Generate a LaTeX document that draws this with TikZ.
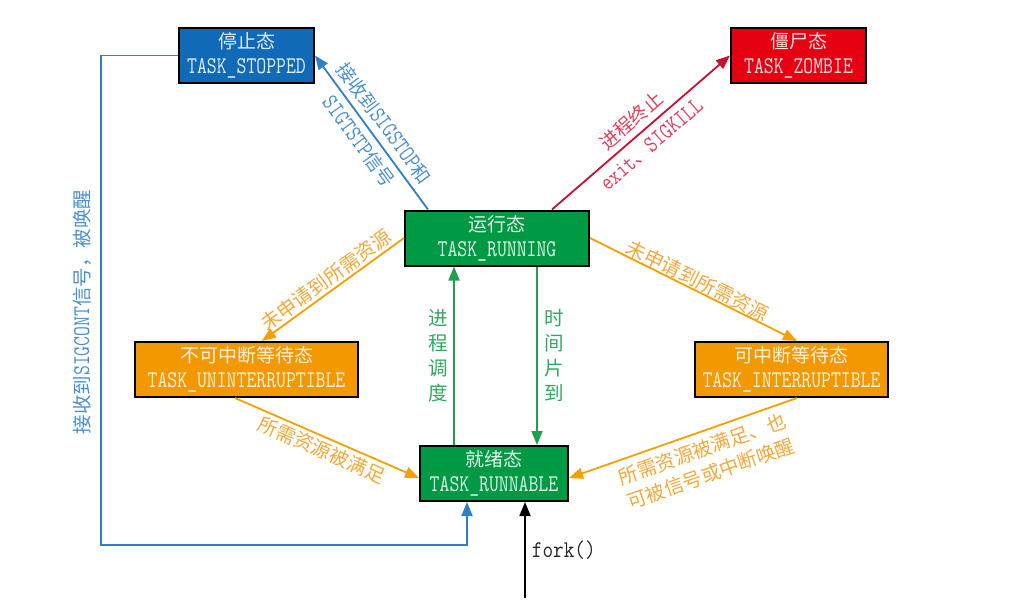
\documentclass[tikz,border=0pt]{standalone}
\usepackage{fontspec}
\usepackage{graphicx}
\usetikzlibrary{arrows.meta}
\newfontfamily\cjk{Noto Sans CJK SC}
% half-width Latin text: condensed Latin Modern Mono
\newcommand\halfw[2][0.8]{\scalebox{#1}[1]{\fontsize{24}{24}\selectfont\ttfamily #2}}

\definecolor{boxblue}{HTML}{116AB8}
\definecolor{boxred}{HTML}{E50012}
\definecolor{boxgreen}{HTML}{009A44}
\definecolor{boxorange}{HTML}{F39800}
\definecolor{lineblue}{HTML}{2F7FC8}
\definecolor{linered}{HTML}{C8102E}
\definecolor{linegreen}{HTML}{1FA050}
\definecolor{lineorange}{HTML}{F5A000}
\definecolor{lblblue}{HTML}{4A90D0}
\definecolor{lblred}{HTML}{E0405A}
\definecolor{lblgreen}{HTML}{30A860}
\definecolor{lblorange}{HTML}{F5A838}

\tikzset{
  state/.style={draw=black, line width=2pt, minimum height=55pt, inner sep=0pt,
    align=center, text=white, text opacity=0.88,
    font=\fontsize{19}{25}\selectfont\cjk},
  conn/.style={line width=1.8pt, -{Triangle[length=14pt,width=11pt]}},
  lbl/.style={inner sep=1pt, align=center, font=\fontsize{19.5}{26}\selectfont\cjk},
  splitlbl/.style={lbl, font=\fontsize{19}{31}\selectfont\cjk},
}

\begin{document}
\begin{tikzpicture}[x=1pt,y=-1pt]
\useasboundingbox (0,0) rectangle (1026,614);

% process states
\node[state, fill=boxblue,   minimum width=135pt] (stop)   at (246.5,55.5)  {停止态\\\halfw{TASK\_STOPPED}};
\node[state, fill=boxred,    minimum width=135pt] (zombie) at (798.5,55.5)  {僵尸态\\\halfw{TASK\_ZOMBIE}};
\node[state, fill=boxgreen,  minimum width=184pt] (run)    at (497,238)     {运行态\\\halfw{TASK\_RUNNING}};
\node[state, fill=boxorange, minimum width=223pt] (unint)  at (246.5,369.5) {不可中断等待态\\\halfw{TASK\_UNINTERRUPTIBLE}};
\node[state, fill=boxorange, minimum width=193pt] (inter)  at (791.5,369.5) {可中断等待态\\\halfw{TASK\_INTERRUPTIBLE}};
\node[state, fill=boxgreen,  minimum width=148pt] (rdy)    at (494,473.5)   {就绪态\\\halfw{TASK\_RUNNABLE}};

% running -> stopped / zombie (the arrow runs between the two label lines)
\draw[conn, lineblue] ([xshift=-69pt]run.north) -- (stop.east)
  node[midway, sloped, splitlbl, text=lblblue] {接收到\halfw{SIGSTOP}和\\\halfw{SIGTSTP}信号};
\draw[conn, linered] ([xshift=55pt]run.north) -- (zombie.west)
  node[midway, sloped, splitlbl, text=lblred] {进程终止\\\halfw{exit}、\halfw{SIGKILL}};

% running -> waiting states
\draw[conn, lineorange] (run.west) -- ([xshift=15.5pt]unint.north)
  node[midway, sloped, above=1pt, lbl, text=lblorange] {未申请到所需资源};
\draw[conn, lineorange] (run.east) -- ([xshift=5.5pt]inter.north)
  node[midway, sloped, above=-1pt, lbl, text=lblorange] {未申请到所需资源};

% waiting states -> runnable
\draw[conn, lineorange] ([xshift=-11.5pt]unint.south) -- ([yshift=-4.5pt]rdy.west)
  node[midway, sloped, below=2pt, lbl, text=lblorange] {所需资源被满足};
\draw[conn, lineorange] ([xshift=5.5pt]inter.south) -- ([yshift=-4.5pt]rdy.east)
  node[pos=0.44, sloped, below=6pt, lbl, text=lblorange] {所需资源被满足、也\\可被信号或中断唤醒};

% scheduling between runnable and running
\draw[conn, linegreen] ([xshift=-40pt]rdy.north) -- ([xshift=-40pt]rdy.north |- run.south)
  node[midway, left=4pt, lbl, text=lblgreen, font=\fontsize{19.5}{25}\selectfont\cjk] {进\\程\\调\\度};
\draw[conn, linegreen] ([xshift=40pt]run.south) -- ([xshift=40pt]run.south |- rdy.north)
  node[midway, right=6pt, lbl, text=lblgreen, font=\fontsize{19.5}{25}\selectfont\cjk] {时\\间\\片\\到};

% stopped -> runnable (SIGCONT)
\coordinate (loopc) at (101,545);
\draw[conn, lineblue] (stop.west) -| (loopc) -| ([xshift=-27pt]rdy.south);
\node[lbl, text=lblblue, rotate=90] (contlbl) at (82,312) {接收到\halfw{SIGCONT}信号，被唤醒};

% new process
\coordinate (forkin) at (525,598);
\draw[conn, black] (forkin) -- (forkin |- rdy.south)
  node[pos=0.5, right=6pt, inner sep=0pt, text=black!85] {\halfw[0.86]{fork()}};
\end{tikzpicture}
\end{document}
